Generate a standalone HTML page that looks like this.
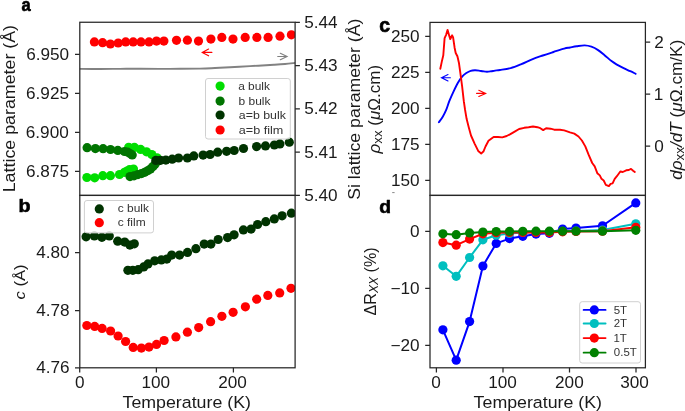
<!DOCTYPE html>
<html><head><meta charset="utf-8"><style>html,body{margin:0;padding:0;background:#fff;overflow:hidden}svg{display:block;will-change:transform}</style></head>
<body><svg width="685" height="411" viewBox="0 0 685 411">
<rect width="685" height="411" fill="#fff"/>
<defs>
<clipPath id="clipa"><rect x="79.8" y="22.25" width="215.3" height="173.15"/></clipPath>
<clipPath id="clipb"><rect x="79.8" y="195.4" width="215.3" height="172.4"/></clipPath>
<clipPath id="clipc"><rect x="430.0" y="22.4" width="215.39999999999998" height="173.0"/></clipPath>
<clipPath id="clipd"><rect x="430.0" y="195.4" width="215.39999999999998" height="172.4"/></clipPath>
</defs>
<g clip-path="url(#clipa)">
<path d="M79.80,68.90 C83.17,68.93 93.30,69.06 100.00,69.05 C106.70,69.04 113.33,68.89 120.00,68.85 C126.67,68.81 131.67,68.80 140.00,68.80 C148.33,68.80 160.00,68.88 170.00,68.85 C180.00,68.82 192.50,68.74 200.00,68.60 C207.50,68.46 210.00,68.23 215.00,68.00 C220.00,67.77 224.17,67.52 230.00,67.20 C235.83,66.88 244.67,66.38 250.00,66.10 C255.33,65.82 258.00,65.72 262.00,65.50 C266.00,65.28 270.17,65.05 274.00,64.80 C277.83,64.55 281.43,64.32 285.00,64.00 C288.57,63.68 293.67,63.08 295.40,62.90" fill="none" stroke="#828282" stroke-width="1.9" stroke-linejoin="round" stroke-linecap="round"/>
<circle cx="94.4" cy="41.9" r="4.6" fill="#ff0000"/><circle cx="102.6" cy="42.7" r="4.6" fill="#ff0000"/><circle cx="110.4" cy="44.0" r="4.6" fill="#ff0000"/><circle cx="118.2" cy="43.0" r="4.6" fill="#ff0000"/><circle cx="125.7" cy="41.9" r="4.6" fill="#ff0000"/><circle cx="133.2" cy="41.9" r="4.6" fill="#ff0000"/><circle cx="141.0" cy="41.9" r="4.6" fill="#ff0000"/><circle cx="149.0" cy="41.9" r="4.6" fill="#ff0000"/><circle cx="156.5" cy="41.1" r="4.6" fill="#ff0000"/><circle cx="163.9" cy="41.1" r="4.6" fill="#ff0000"/><circle cx="176.5" cy="40.3" r="4.6" fill="#ff0000"/><circle cx="187.4" cy="40.2" r="4.6" fill="#ff0000"/><circle cx="198.5" cy="41.1" r="4.6" fill="#ff0000"/><circle cx="210.9" cy="39.1" r="4.6" fill="#ff0000"/><circle cx="221.8" cy="37.4" r="4.6" fill="#ff0000"/><circle cx="233.0" cy="39.1" r="4.6" fill="#ff0000"/><circle cx="245.2" cy="37.4" r="4.6" fill="#ff0000"/><circle cx="256.9" cy="37.4" r="4.6" fill="#ff0000"/><circle cx="268.1" cy="37.4" r="4.6" fill="#ff0000"/><circle cx="280.0" cy="36.2" r="4.6" fill="#ff0000"/><circle cx="291.4" cy="34.8" r="4.6" fill="#ff0000"/>
<circle cx="86.9" cy="177.5" r="4.6" fill="#00dd00"/><circle cx="94.7" cy="177.8" r="4.6" fill="#00dd00"/><circle cx="102.8" cy="175.7" r="4.6" fill="#00dd00"/><circle cx="110.4" cy="175.7" r="4.6" fill="#00dd00"/><circle cx="119.5" cy="174.5" r="4.6" fill="#00dd00"/><circle cx="124.5" cy="172.3" r="4.6" fill="#00dd00"/><circle cx="127.0" cy="171.0" r="4.6" fill="#00dd00"/><circle cx="129.5" cy="169.7" r="4.6" fill="#00dd00"/><circle cx="133.5" cy="169.0" r="4.6" fill="#00dd00"/><circle cx="128.7" cy="147.3" r="4.6" fill="#00dd00"/><circle cx="134.4" cy="147.4" r="4.6" fill="#00dd00"/><circle cx="140.6" cy="149.4" r="4.6" fill="#00dd00"/><circle cx="146.5" cy="151.8" r="4.6" fill="#00dd00"/><circle cx="151.8" cy="154.6" r="4.6" fill="#00dd00"/><circle cx="157.0" cy="157.8" r="4.6" fill="#00dd00"/>
<circle cx="87.1" cy="147.7" r="4.6" fill="#007400"/><circle cx="95.4" cy="148.6" r="4.6" fill="#007400"/><circle cx="103.1" cy="148.7" r="4.6" fill="#007400"/><circle cx="110.5" cy="149.5" r="4.6" fill="#007400"/><circle cx="117.8" cy="150.4" r="4.6" fill="#007400"/><circle cx="124.5" cy="151.5" r="4.6" fill="#007400"/><circle cx="127.5" cy="152.0" r="4.6" fill="#007400"/><circle cx="130.0" cy="153.5" r="4.6" fill="#007400"/><circle cx="132.2" cy="155.0" r="4.6" fill="#007400"/><circle cx="130.0" cy="176.6" r="4.6" fill="#007400"/><circle cx="134.0" cy="175.8" r="4.6" fill="#007400"/><circle cx="137.9" cy="174.6" r="4.6" fill="#007400"/><circle cx="141.5" cy="173.6" r="4.6" fill="#007400"/><circle cx="144.7" cy="172.3" r="4.6" fill="#007400"/><circle cx="148.0" cy="170.6" r="4.6" fill="#007400"/><circle cx="150.5" cy="168.9" r="4.6" fill="#007400"/><circle cx="153.0" cy="166.5" r="4.6" fill="#007400"/><circle cx="155.0" cy="164.3" r="4.6" fill="#007400"/><circle cx="157.9" cy="160.9" r="4.6" fill="#007400"/>
<circle cx="155.8" cy="160.4" r="4.6" fill="#003300"/><circle cx="160.5" cy="160.3" r="4.6" fill="#003300"/><circle cx="165.8" cy="160.1" r="4.6" fill="#003300"/><circle cx="172.2" cy="159.2" r="4.6" fill="#003300"/><circle cx="178.6" cy="158.0" r="4.6" fill="#003300"/><circle cx="187.4" cy="158.0" r="4.6" fill="#003300"/><circle cx="193.8" cy="155.9" r="4.6" fill="#003300"/><circle cx="203.1" cy="155.1" r="4.6" fill="#003300"/><circle cx="210.1" cy="154.5" r="4.6" fill="#003300"/><circle cx="217.7" cy="152.2" r="4.6" fill="#003300"/><circle cx="226.6" cy="151.3" r="4.6" fill="#003300"/><circle cx="234.2" cy="150.5" r="4.6" fill="#003300"/><circle cx="243.5" cy="148.5" r="4.6" fill="#003300"/><circle cx="256.6" cy="146.6" r="4.6" fill="#003300"/><circle cx="265.5" cy="145.9" r="4.6" fill="#003300"/><circle cx="274.4" cy="145.0" r="4.6" fill="#003300"/><circle cx="279.9" cy="143.9" r="4.6" fill="#003300"/><circle cx="289.3" cy="142.2" r="4.6" fill="#003300"/>
</g>
<path d="M211.9,52.4 L202.2,52.4 M208.6,49.0 L202.2,52.4 L208.6,55.8" fill="none" stroke="#ff0000" stroke-width="1.1" stroke-linecap="round" stroke-linejoin="miter"/>
<path d="M277.7,56.5 L287.1,56.5 M280.3,53.3 L287.1,56.5 L280.3,59.7" fill="none" stroke="#808080" stroke-width="1.1" stroke-linecap="round" stroke-linejoin="miter"/>
<rect x="205.5" y="78.5" width="84.80000000000001" height="60.5" rx="2.5" ry="2.5" fill="#fff" fill-opacity="0.8" stroke="#d0d0d0" stroke-width="1"/>
<circle cx="220.1" cy="86.1" r="4.6" fill="#00dd00"/>
<circle cx="220.1" cy="101.1" r="4.6" fill="#007400"/>
<circle cx="220.1" cy="115.0" r="4.6" fill="#003300"/>
<circle cx="220.1" cy="130.0" r="4.6" fill="#ff0000"/>
<g clip-path="url(#clipb)">
<circle cx="86.1" cy="236.8" r="4.6" fill="#003300"/><circle cx="94.4" cy="235.9" r="4.6" fill="#003300"/><circle cx="101.9" cy="237.3" r="4.6" fill="#003300"/><circle cx="109.3" cy="235.9" r="4.6" fill="#003300"/><circle cx="117.7" cy="241.2" r="4.6" fill="#003300"/><circle cx="124.7" cy="242.1" r="4.6" fill="#003300"/><circle cx="129.9" cy="245.1" r="4.6" fill="#003300"/><circle cx="134.3" cy="243.8" r="4.6" fill="#003300"/><circle cx="127.9" cy="270.3" r="4.6" fill="#003300"/><circle cx="132.8" cy="270.3" r="4.6" fill="#003300"/><circle cx="138.2" cy="269.7" r="4.6" fill="#003300"/><circle cx="143.7" cy="266.9" r="4.6" fill="#003300"/><circle cx="148.0" cy="263.9" r="4.6" fill="#003300"/><circle cx="154.7" cy="260.8" r="4.6" fill="#003300"/><circle cx="161.3" cy="259.9" r="4.6" fill="#003300"/><circle cx="166.8" cy="259.1" r="4.6" fill="#003300"/><circle cx="171.7" cy="255.1" r="4.6" fill="#003300"/><circle cx="179.6" cy="255.1" r="4.6" fill="#003300"/><circle cx="187.5" cy="252.4" r="4.6" fill="#003300"/><circle cx="195.9" cy="248.7" r="4.6" fill="#003300"/><circle cx="204.2" cy="244.1" r="4.6" fill="#003300"/><circle cx="210.9" cy="244.1" r="4.6" fill="#003300"/><circle cx="218.2" cy="239.5" r="4.6" fill="#003300"/><circle cx="227.6" cy="237.6" r="4.6" fill="#003300"/><circle cx="234.1" cy="234.8" r="4.6" fill="#003300"/><circle cx="243.4" cy="229.9" r="4.6" fill="#003300"/><circle cx="251.1" cy="229.1" r="4.6" fill="#003300"/><circle cx="257.6" cy="224.5" r="4.6" fill="#003300"/><circle cx="265.8" cy="221.7" r="4.6" fill="#003300"/><circle cx="274.3" cy="218.9" r="4.6" fill="#003300"/><circle cx="282.1" cy="215.8" r="4.6" fill="#003300"/><circle cx="291.4" cy="213.2" r="4.6" fill="#003300"/>
<circle cx="86.8" cy="325.5" r="4.6" fill="#ff0000"/><circle cx="94.7" cy="326.4" r="4.6" fill="#ff0000"/><circle cx="102.1" cy="328.4" r="4.6" fill="#ff0000"/><circle cx="110.6" cy="331.0" r="4.6" fill="#ff0000"/><circle cx="118.1" cy="336.0" r="4.6" fill="#ff0000"/><circle cx="125.6" cy="341.5" r="4.6" fill="#ff0000"/><circle cx="133.2" cy="347.4" r="4.6" fill="#ff0000"/><circle cx="141.4" cy="348.1" r="4.6" fill="#ff0000"/><circle cx="149.0" cy="347.1" r="4.6" fill="#ff0000"/><circle cx="156.5" cy="344.4" r="4.6" fill="#ff0000"/><circle cx="164.1" cy="340.5" r="4.6" fill="#ff0000"/><circle cx="175.9" cy="336.9" r="4.6" fill="#ff0000"/><circle cx="187.4" cy="332.2" r="4.6" fill="#ff0000"/><circle cx="198.7" cy="327.6" r="4.6" fill="#ff0000"/><circle cx="210.6" cy="321.7" r="4.6" fill="#ff0000"/><circle cx="221.9" cy="316.3" r="4.6" fill="#ff0000"/><circle cx="233.1" cy="312.3" r="4.6" fill="#ff0000"/><circle cx="245.4" cy="306.8" r="4.6" fill="#ff0000"/><circle cx="256.7" cy="299.2" r="4.6" fill="#ff0000"/><circle cx="267.8" cy="295.4" r="4.6" fill="#ff0000"/><circle cx="279.7" cy="292.9" r="4.6" fill="#ff0000"/><circle cx="291.0" cy="288.3" r="4.6" fill="#ff0000"/>
</g>
<rect x="84.4" y="200.5" width="69.1" height="32.400000000000006" rx="2.5" ry="2.5" fill="#fff" fill-opacity="0.8" stroke="#d0d0d0" stroke-width="1"/>
<circle cx="99.3" cy="208.9" r="4.6" fill="#003300"/>
<circle cx="99.3" cy="222.7" r="4.6" fill="#ff0000"/>
<g clip-path="url(#clipc)">
<path d="M438.90,122.20 C439.57,121.23 441.65,118.53 442.90,116.40 C444.15,114.27 445.33,111.93 446.40,109.40 C447.47,106.87 448.12,104.17 449.30,101.20 C450.48,98.23 452.08,94.63 453.50,91.60 C454.92,88.57 456.37,85.50 457.80,83.00 C459.23,80.50 460.67,78.27 462.10,76.60 C463.53,74.93 464.97,73.97 466.40,73.00 C467.83,72.03 469.27,71.25 470.70,70.80 C472.13,70.35 473.62,70.33 475.00,70.30 C476.38,70.27 477.67,70.43 479.00,70.60 C480.33,70.77 481.67,71.12 483.00,71.30 C484.33,71.48 485.67,71.70 487.00,71.70 C488.33,71.70 489.67,71.48 491.00,71.30 C492.33,71.12 493.50,70.82 495.00,70.60 C496.50,70.38 497.38,70.42 500.00,70.00 C502.62,69.58 507.13,69.08 510.70,68.10 C514.27,67.12 517.83,65.57 521.40,64.10 C524.97,62.63 528.53,60.73 532.10,59.30 C535.67,57.87 539.23,56.72 542.80,55.50 C546.37,54.28 549.93,53.15 553.50,52.00 C557.07,50.85 561.45,49.35 564.20,48.60 C566.95,47.85 567.92,47.88 570.00,47.50 C572.08,47.12 574.25,46.65 576.70,46.30 C579.15,45.95 582.25,45.33 584.70,45.40 C587.15,45.47 589.17,45.92 591.40,46.70 C593.63,47.48 595.87,48.65 598.10,50.10 C600.33,51.55 602.57,53.57 604.80,55.40 C607.03,57.23 609.48,59.57 611.50,61.10 C613.52,62.63 614.88,63.42 616.90,64.60 C618.92,65.78 621.37,67.10 623.60,68.20 C625.83,69.30 628.30,70.27 630.30,71.20 C632.30,72.13 634.72,73.37 635.60,73.80" fill="none" stroke="#0000ff" stroke-width="1.9" stroke-linejoin="round" stroke-linecap="round"/>
<polyline points="440.3,68.7 441.8,61.6 443.3,55.2 444.6,38.1 446.1,34.8 447.6,29.9 449.3,35.9 450.3,39.1 452.1,35.3 453.1,37.4 454.6,47.7 455.7,53.0 457.4,56.3 458.9,62.7 460.4,73.4 462.1,86.2 463.8,101.2 465.1,110.0 466.6,118.8 468.8,127.5 471.0,135.5 474.6,143.6 478.2,150.9 481.2,153.4 483.4,151.6 485.5,146.5 488.5,140.7 493.6,137.0 498.0,137.0 502.3,137.4 506.7,136.0 510.4,134.1 514.7,131.6 519.1,129.0 524.2,127.8 528.6,127.2 533.0,126.5 537.4,127.2 540.3,128.2 543.2,130.1 546.1,128.2 550.5,128.7 554.2,129.7 560.0,129.7 564.2,130.4 570.0,132.3 574.3,133.6 578.5,136.5 581.9,140.5 585.3,146.4 588.7,154.9 592.2,163.0 594.7,166.4 597.3,173.2 599.8,175.4 601.5,178.8 603.7,180.5 605.8,184.8 608.9,186.1 610.6,183.9 612.6,183.4 614.7,178.8 616.9,176.2 620.3,171.5 622.8,172.0 626.2,170.3 628.8,170.0 631.0,168.9 633.1,170.8 634.8,172.0" fill="none" stroke="#ff0000" stroke-width="1.9" stroke-linejoin="round" stroke-linecap="round"/>
</g>
<path d="M450.4,77.7 L441.5,77.7 M448.0,74.6 L441.5,77.7 L448.0,80.9" fill="none" stroke="#0000ff" stroke-width="1.1" stroke-linecap="round" stroke-linejoin="miter"/>
<path d="M476.6,93.4 L485.7,93.4 M478.8,90.3 L485.7,93.4 L478.8,96.5" fill="none" stroke="#ff0000" stroke-width="1.1" stroke-linecap="round" stroke-linejoin="miter"/>
<g clip-path="url(#clipd)">
<polyline points="442.9,329.8 456.2,360.2 469.6,321.6 482.9,266.0 496.2,243.4 509.5,238.6 522.8,236.3 536.0,234.1 549.4,233.3 562.6,229.0 576.0,228.0 602.5,225.8 635.8,202.9" fill="none" stroke="#0000ff" stroke-width="2.0" stroke-linejoin="round" stroke-linecap="round"/>
<circle cx="442.9" cy="329.8" r="4.6" fill="#0000ff"/><circle cx="456.2" cy="360.2" r="4.6" fill="#0000ff"/><circle cx="469.6" cy="321.6" r="4.6" fill="#0000ff"/><circle cx="482.9" cy="266.0" r="4.6" fill="#0000ff"/><circle cx="496.2" cy="243.4" r="4.6" fill="#0000ff"/><circle cx="509.5" cy="238.6" r="4.6" fill="#0000ff"/><circle cx="522.8" cy="236.3" r="4.6" fill="#0000ff"/><circle cx="536.0" cy="234.1" r="4.6" fill="#0000ff"/><circle cx="549.4" cy="233.3" r="4.6" fill="#0000ff"/><circle cx="562.6" cy="229.0" r="4.6" fill="#0000ff"/><circle cx="576.0" cy="228.0" r="4.6" fill="#0000ff"/><circle cx="602.5" cy="225.8" r="4.6" fill="#0000ff"/><circle cx="635.8" cy="202.9" r="4.6" fill="#0000ff"/>
<polyline points="442.9,265.8 456.2,276.3 469.6,257.5 482.9,239.8 496.2,235.2 509.5,233.5 522.8,232.5 536.0,232.0 549.4,231.8 562.6,231.3 576.0,231.0 602.5,230.0 635.8,223.8" fill="none" stroke="#00bfbf" stroke-width="2.0" stroke-linejoin="round" stroke-linecap="round"/>
<circle cx="442.9" cy="265.8" r="4.6" fill="#00bfbf"/><circle cx="456.2" cy="276.3" r="4.6" fill="#00bfbf"/><circle cx="469.6" cy="257.5" r="4.6" fill="#00bfbf"/><circle cx="482.9" cy="239.8" r="4.6" fill="#00bfbf"/><circle cx="496.2" cy="235.2" r="4.6" fill="#00bfbf"/><circle cx="509.5" cy="233.5" r="4.6" fill="#00bfbf"/><circle cx="522.8" cy="232.5" r="4.6" fill="#00bfbf"/><circle cx="536.0" cy="232.0" r="4.6" fill="#00bfbf"/><circle cx="549.4" cy="231.8" r="4.6" fill="#00bfbf"/><circle cx="562.6" cy="231.3" r="4.6" fill="#00bfbf"/><circle cx="576.0" cy="231.0" r="4.6" fill="#00bfbf"/><circle cx="602.5" cy="230.0" r="4.6" fill="#00bfbf"/><circle cx="635.8" cy="223.8" r="4.6" fill="#00bfbf"/>
<polyline points="442.9,242.6 456.2,245.2 469.6,239.1 482.9,233.8 496.2,232.7 509.5,232.5 522.8,232.4 536.0,232.4 549.4,232.6 562.6,231.8 576.0,231.5 602.5,231.2 635.8,227.3" fill="none" stroke="#ff0000" stroke-width="2.0" stroke-linejoin="round" stroke-linecap="round"/>
<circle cx="442.9" cy="242.6" r="4.6" fill="#ff0000"/><circle cx="456.2" cy="245.2" r="4.6" fill="#ff0000"/><circle cx="469.6" cy="239.1" r="4.6" fill="#ff0000"/><circle cx="482.9" cy="233.8" r="4.6" fill="#ff0000"/><circle cx="496.2" cy="232.7" r="4.6" fill="#ff0000"/><circle cx="509.5" cy="232.5" r="4.6" fill="#ff0000"/><circle cx="522.8" cy="232.4" r="4.6" fill="#ff0000"/><circle cx="536.0" cy="232.4" r="4.6" fill="#ff0000"/><circle cx="549.4" cy="232.6" r="4.6" fill="#ff0000"/><circle cx="562.6" cy="231.8" r="4.6" fill="#ff0000"/><circle cx="576.0" cy="231.5" r="4.6" fill="#ff0000"/><circle cx="602.5" cy="231.2" r="4.6" fill="#ff0000"/><circle cx="635.8" cy="227.3" r="4.6" fill="#ff0000"/>
<polyline points="442.9,233.8 456.2,234.7 469.6,232.9 482.9,232.1 496.2,231.6 509.5,231.4 522.8,231.3 536.0,231.2 549.4,231.2 562.6,231.2 576.0,231.2 602.5,231.2 635.8,230.3" fill="none" stroke="#008000" stroke-width="2.0" stroke-linejoin="round" stroke-linecap="round"/>
<circle cx="442.9" cy="233.8" r="4.6" fill="#008000"/><circle cx="456.2" cy="234.7" r="4.6" fill="#008000"/><circle cx="469.6" cy="232.9" r="4.6" fill="#008000"/><circle cx="482.9" cy="232.1" r="4.6" fill="#008000"/><circle cx="496.2" cy="231.6" r="4.6" fill="#008000"/><circle cx="509.5" cy="231.4" r="4.6" fill="#008000"/><circle cx="522.8" cy="231.3" r="4.6" fill="#008000"/><circle cx="536.0" cy="231.2" r="4.6" fill="#008000"/><circle cx="549.4" cy="231.2" r="4.6" fill="#008000"/><circle cx="562.6" cy="231.2" r="4.6" fill="#008000"/><circle cx="576.0" cy="231.2" r="4.6" fill="#008000"/><circle cx="602.5" cy="231.2" r="4.6" fill="#008000"/><circle cx="635.8" cy="230.3" r="4.6" fill="#008000"/>
</g>
<rect x="579.7" y="301.7" width="60.799999999999955" height="61.30000000000001" rx="2.5" ry="2.5" fill="#fff" fill-opacity="0.8" stroke="#d0d0d0" stroke-width="1"/>
<polyline points="583.6,309.9 605.6,309.9" fill="none" stroke="#0000ff" stroke-width="1.8" stroke-linejoin="round" stroke-linecap="round" stroke-linecap="butt"/>
<circle cx="594.3" cy="309.9" r="4.6" fill="#0000ff"/>
<polyline points="583.6,323.5 605.6,323.5" fill="none" stroke="#00bfbf" stroke-width="1.8" stroke-linejoin="round" stroke-linecap="round" stroke-linecap="butt"/>
<circle cx="594.3" cy="323.5" r="4.6" fill="#00bfbf"/>
<polyline points="583.6,338.1 605.6,338.1" fill="none" stroke="#ff0000" stroke-width="1.8" stroke-linejoin="round" stroke-linecap="round" stroke-linecap="butt"/>
<circle cx="594.3" cy="338.1" r="4.6" fill="#ff0000"/>
<polyline points="583.6,352.7 605.6,352.7" fill="none" stroke="#008000" stroke-width="1.8" stroke-linejoin="round" stroke-linecap="round" stroke-linecap="butt"/>
<circle cx="594.3" cy="352.7" r="4.6" fill="#008000"/>
<path d="M392.2,192.6 H394.6" stroke="#888" stroke-width="1"/>
<rect x="79.8" y="22.25" width="215.3" height="173.15" fill="none" stroke="#262626" stroke-width="1.25"/>
<rect x="79.8" y="195.4" width="215.3" height="172.4" fill="none" stroke="#262626" stroke-width="1.25"/>
<rect x="430.0" y="22.4" width="215.39999999999998" height="173.0" fill="none" stroke="#262626" stroke-width="1.25"/>
<rect x="430.0" y="195.4" width="215.39999999999998" height="172.4" fill="none" stroke="#262626" stroke-width="1.25"/>
<path d="M75.0,54.4 H79.8 M75.0,93.4 H79.8 M75.0,132.4 H79.8 M75.0,171.4 H79.8 M295.1,22.25 H299.90000000000003 M295.1,65.5 H299.90000000000003 M295.1,108.8 H299.90000000000003 M295.1,152.1 H299.90000000000003 M295.1,195.4 H299.90000000000003 M75.0,252.5 H79.8 M75.0,310.5 H79.8 M75.0,367.8 H79.8 M79.7,367.8 V372.6 M156.4,367.8 V372.6 M233.4,367.8 V372.6 M425.2,36.4 H430.0 M425.2,72.4 H430.0 M425.2,108.4 H430.0 M425.2,144.4 H430.0 M425.2,180.4 H430.0 M645.4,42.2 H650.1999999999999 M645.4,94.2 H650.1999999999999 M645.4,146.2 H650.1999999999999 M425.2,231.3 H430.0 M425.2,288.3 H430.0 M425.2,345.3 H430.0 M436.4,367.8 V372.6 M503.0,367.8 V372.6 M569.5,367.8 V372.6 M636.0,367.8 V372.6" stroke="#262626" stroke-width="1.25" fill="none"/>
<g>
<text x="0" y="0" transform="translate(26.19,60.00) scale(1.0735,0.9913)" font-family='"Liberation Sans", sans-serif' font-size="16" font-weight="normal" font-style="normal" fill="#1a1a1a">6.950</text>
<text x="0" y="0" transform="translate(26.06,99.00) scale(1.0735,0.9913)" font-family='"Liberation Sans", sans-serif' font-size="16" font-weight="normal" font-style="normal" fill="#1a1a1a">6.925</text>
<text x="0" y="0" transform="translate(25.79,138.00) scale(1.0735,0.9913)" font-family='"Liberation Sans", sans-serif' font-size="16" font-weight="normal" font-style="normal" fill="#1a1a1a">6.900</text>
<text x="0" y="0" transform="translate(26.06,177.00) scale(1.0735,0.9913)" font-family='"Liberation Sans", sans-serif' font-size="16" font-weight="normal" font-style="normal" fill="#1a1a1a">6.875</text>
<text x="0" y="0" transform="translate(304.19,28.00) scale(1.0735,0.9913)" font-family='"Liberation Sans", sans-serif' font-size="16" font-weight="normal" font-style="normal" fill="#1a1a1a">5.44</text>
<text x="0" y="0" transform="translate(304.19,71.00) scale(1.0735,0.9913)" font-family='"Liberation Sans", sans-serif' font-size="16" font-weight="normal" font-style="normal" fill="#1a1a1a">5.43</text>
<text x="0" y="0" transform="translate(304.19,114.00) scale(1.0735,0.9913)" font-family='"Liberation Sans", sans-serif' font-size="16" font-weight="normal" font-style="normal" fill="#1a1a1a">5.42</text>
<text x="0" y="0" transform="translate(304.19,158.00) scale(1.0735,0.9913)" font-family='"Liberation Sans", sans-serif' font-size="16" font-weight="normal" font-style="normal" fill="#1a1a1a">5.41</text>
<text x="0" y="0" transform="translate(304.19,201.00) scale(1.0735,0.9913)" font-family='"Liberation Sans", sans-serif' font-size="16" font-weight="normal" font-style="normal" fill="#1a1a1a">5.40</text>
<text x="0" y="0" transform="translate(36.26,258.00) scale(1.0735,0.9913)" font-family='"Liberation Sans", sans-serif' font-size="16" font-weight="normal" font-style="normal" fill="#1a1a1a">4.80</text>
<text x="0" y="0" transform="translate(36.26,316.00) scale(1.0735,0.9913)" font-family='"Liberation Sans", sans-serif' font-size="16" font-weight="normal" font-style="normal" fill="#1a1a1a">4.78</text>
<text x="0" y="0" transform="translate(36.26,373.00) scale(1.0735,0.9913)" font-family='"Liberation Sans", sans-serif' font-size="16" font-weight="normal" font-style="normal" fill="#1a1a1a">4.76</text>
<text x="0" y="0" transform="translate(75.12,388.00) scale(1.0735,0.9913)" font-family='"Liberation Sans", sans-serif' font-size="16" font-weight="normal" font-style="normal" fill="#1a1a1a">0</text>
<text x="0" y="0" transform="translate(141.47,388.00) scale(1.0735,0.9913)" font-family='"Liberation Sans", sans-serif' font-size="16" font-weight="normal" font-style="normal" fill="#1a1a1a">100</text>
<text x="0" y="0" transform="translate(218.24,388.00) scale(1.0735,0.9913)" font-family='"Liberation Sans", sans-serif' font-size="16" font-weight="normal" font-style="normal" fill="#1a1a1a">200</text>
<text x="0" y="0" transform="translate(390.99,42.00) scale(1.0735,0.9913)" font-family='"Liberation Sans", sans-serif' font-size="16" font-weight="normal" font-style="normal" fill="#1a1a1a">250</text>
<text x="0" y="0" transform="translate(390.99,78.00) scale(1.0735,0.9913)" font-family='"Liberation Sans", sans-serif' font-size="16" font-weight="normal" font-style="normal" fill="#1a1a1a">225</text>
<text x="0" y="0" transform="translate(390.99,114.00) scale(1.0735,0.9913)" font-family='"Liberation Sans", sans-serif' font-size="16" font-weight="normal" font-style="normal" fill="#1a1a1a">200</text>
<text x="0" y="0" transform="translate(390.99,150.00) scale(1.0735,0.9913)" font-family='"Liberation Sans", sans-serif' font-size="16" font-weight="normal" font-style="normal" fill="#1a1a1a">175</text>
<text x="0" y="0" transform="translate(390.99,186.00) scale(1.0735,0.9913)" font-family='"Liberation Sans", sans-serif' font-size="16" font-weight="normal" font-style="normal" fill="#1a1a1a">150</text>
<text x="0" y="0" transform="translate(654.19,48.00) scale(1.0735,0.9913)" font-family='"Liberation Sans", sans-serif' font-size="16" font-weight="normal" font-style="normal" fill="#1a1a1a">2</text>
<text x="0" y="0" transform="translate(653.66,100.00) scale(1.0735,0.9913)" font-family='"Liberation Sans", sans-serif' font-size="16" font-weight="normal" font-style="normal" fill="#1a1a1a">1</text>
<text x="0" y="0" transform="translate(654.19,152.00) scale(1.0735,0.9913)" font-family='"Liberation Sans", sans-serif' font-size="16" font-weight="normal" font-style="normal" fill="#1a1a1a">0</text>
<text x="0" y="0" transform="translate(410.04,237.00) scale(1.0735,0.9913)" font-family='"Liberation Sans", sans-serif' font-size="16" font-weight="normal" font-style="normal" fill="#1a1a1a">0</text>
<text x="0" y="0" transform="translate(390.45,294.00) scale(1.0735,0.9913)" font-family='"Liberation Sans", sans-serif' font-size="16" font-weight="normal" font-style="normal" fill="#1a1a1a">−10</text>
<text x="0" y="0" transform="translate(390.45,351.00) scale(1.0735,0.9913)" font-family='"Liberation Sans", sans-serif' font-size="16" font-weight="normal" font-style="normal" fill="#1a1a1a">−20</text>
<text x="0" y="0" transform="translate(431.37,388.00) scale(1.0735,0.9913)" font-family='"Liberation Sans", sans-serif' font-size="16" font-weight="normal" font-style="normal" fill="#1a1a1a">0</text>
<text x="0" y="0" transform="translate(488.17,388.00) scale(1.0735,0.9913)" font-family='"Liberation Sans", sans-serif' font-size="16" font-weight="normal" font-style="normal" fill="#1a1a1a">100</text>
<text x="0" y="0" transform="translate(555.04,388.00) scale(1.0735,0.9913)" font-family='"Liberation Sans", sans-serif' font-size="16" font-weight="normal" font-style="normal" fill="#1a1a1a">200</text>
<text x="0" y="0" transform="translate(620.24,388.00) scale(1.0735,0.9913)" font-family='"Liberation Sans", sans-serif' font-size="16" font-weight="normal" font-style="normal" fill="#1a1a1a">300</text>
<text x="0" y="0" transform="translate(122.52,407.60) scale(1.1116,1.0455)" font-family='"Liberation Sans", sans-serif' font-size="16" font-weight="normal" font-style="normal" fill="#1a1a1a">Temperature (K)</text>
<text x="0" y="0" transform="translate(473.62,407.60) scale(1.1116,1.0455)" font-family='"Liberation Sans", sans-serif' font-size="16" font-weight="normal" font-style="normal" fill="#1a1a1a">Temperature (K)</text>
<text x="0" y="0" transform="translate(21.57,11.00) scale(0.9171,1.0667)" font-family='"Liberation Sans", sans-serif' font-size="18" font-weight="bold" font-style="normal" fill="#000" stroke="#000" stroke-width="0.6" stroke-linejoin="round">a</text>
<text x="0" y="0" transform="translate(18.51,212.00) scale(1.0947,1.0255)" font-family='"Liberation Sans", sans-serif' font-size="18" font-weight="bold" font-style="normal" fill="#000" stroke="#000" stroke-width="0.6" stroke-linejoin="round">b</text>
<text x="0" y="0" transform="translate(379.26,32.00) scale(1.0811,1.0857)" font-family='"Liberation Sans", sans-serif' font-size="18" font-weight="bold" font-style="normal" fill="#000" stroke="#000" stroke-width="0.6" stroke-linejoin="round">c</text>
<text x="0" y="0" transform="translate(379.36,213.00) scale(1.0737,1.0255)" font-family='"Liberation Sans", sans-serif' font-size="18" font-weight="bold" font-style="normal" fill="#000" stroke="#000" stroke-width="0.6" stroke-linejoin="round">d</text>
<text x="0" y="0" transform="translate(14.80,192.29) rotate(-90) scale(1.1142,1.0182)" font-family='"Liberation Sans", sans-serif' font-size="16" font-weight="normal" font-style="normal" fill="#1a1a1a">Lattice parameter (Å)</text>
<text x="0" y="0" transform="translate(25.30,299.42) rotate(-90) scale(1.0388,0.9545)" font-family='"Liberation Sans", sans-serif' font-size="16" font-weight="normal" font-style="normal" fill="#1a1a1a"><tspan font-style="italic">c</tspan> (Å)</text>
<text x="0" y="0" transform="translate(359.60,199.83) rotate(-90) scale(1.1086,1.0182)" font-family='"Liberation Sans", sans-serif' font-size="16" font-weight="normal" font-style="normal" fill="#1a1a1a">Si lattice parameter (Å)</text>
<text x="0" y="0" transform="translate(379.70,153.43) rotate(-90) scale(1.0630,0.9909)" font-family='"Liberation Sans", sans-serif' font-size="16" font-weight="normal" font-style="normal" fill="#1a1a1a"><tspan font-style="italic">ρ</tspan><tspan font-size="12.5" dy="2">xx</tspan><tspan dy="-2"> (</tspan><tspan font-style="italic">μ</tspan>Ω.cm)</text>
<text x="0" y="0" transform="translate(681.90,179.84) rotate(-90) scale(1.0752,1.0273)" font-family='"Liberation Sans", sans-serif' font-size="16" font-weight="normal" font-style="normal" fill="#1a1a1a"><tspan font-style="italic">dρ</tspan><tspan font-size="12.5" dy="2">xx</tspan><tspan dy="-2" font-style="italic">/dT</tspan> (<tspan font-style="italic">μ</tspan>Ω.cm/K)</text>
<text x="0" y="0" transform="translate(376.00,315.50) rotate(-90) scale(1.0091,1.0091)" font-family='"Liberation Sans", sans-serif' font-size="16" font-weight="normal" font-style="normal" fill="#1a1a1a">ΔR<tspan font-size="12" dy="1.5" font-style="italic">XX</tspan><tspan dy="-1.5"> (%)</tspan></text>
<text x="0" y="0" transform="translate(238.13,90.00) scale(1.1382,0.9600)" font-family='"Liberation Sans", sans-serif' font-size="10.5" font-weight="normal" font-style="normal" fill="#333">a bulk</text>
<text x="0" y="0" transform="translate(238.55,105.00) scale(1.1382,0.9600)" font-family='"Liberation Sans", sans-serif' font-size="10.5" font-weight="normal" font-style="normal" fill="#333">b bulk</text>
<text x="0" y="0" transform="translate(238.81,119.00) scale(1.1797,0.9600)" font-family='"Liberation Sans", sans-serif' font-size="10.5" font-weight="normal" font-style="normal" fill="#333">a=b bulk</text>
<text x="0" y="0" transform="translate(238.80,134.00) scale(1.2028,0.9600)" font-family='"Liberation Sans", sans-serif' font-size="10.5" font-weight="normal" font-style="normal" fill="#333">a=b film</text>
<text x="0" y="0" transform="translate(117.73,212.00) scale(1.1382,0.9600)" font-family='"Liberation Sans", sans-serif' font-size="10.5" font-weight="normal" font-style="normal" fill="#333">c bulk</text>
<text x="0" y="0" transform="translate(117.73,226.00) scale(1.1382,0.9600)" font-family='"Liberation Sans", sans-serif' font-size="10.5" font-weight="normal" font-style="normal" fill="#333">c film</text>
<text x="0" y="0" transform="translate(613.85,356.00) scale(1.0914,0.9931)" font-family='"Liberation Sans", sans-serif' font-size="10.5" font-weight="normal" font-style="normal" fill="#333">0.5T</text>
<text x="0" y="0" transform="translate(613.75,314.00) scale(1.0914,0.9931)" font-family='"Liberation Sans", sans-serif' font-size="10.5" font-weight="normal" font-style="normal" fill="#333">5T</text>
<text x="0" y="0" transform="translate(613.75,327.00) scale(1.0914,0.9931)" font-family='"Liberation Sans", sans-serif' font-size="10.5" font-weight="normal" font-style="normal" fill="#333">2T</text>
<text x="0" y="0" transform="translate(613.48,342.00) scale(1.0914,0.9931)" font-family='"Liberation Sans", sans-serif' font-size="10.5" font-weight="normal" font-style="normal" fill="#333">1T</text>
</g>
</svg></body></html>
